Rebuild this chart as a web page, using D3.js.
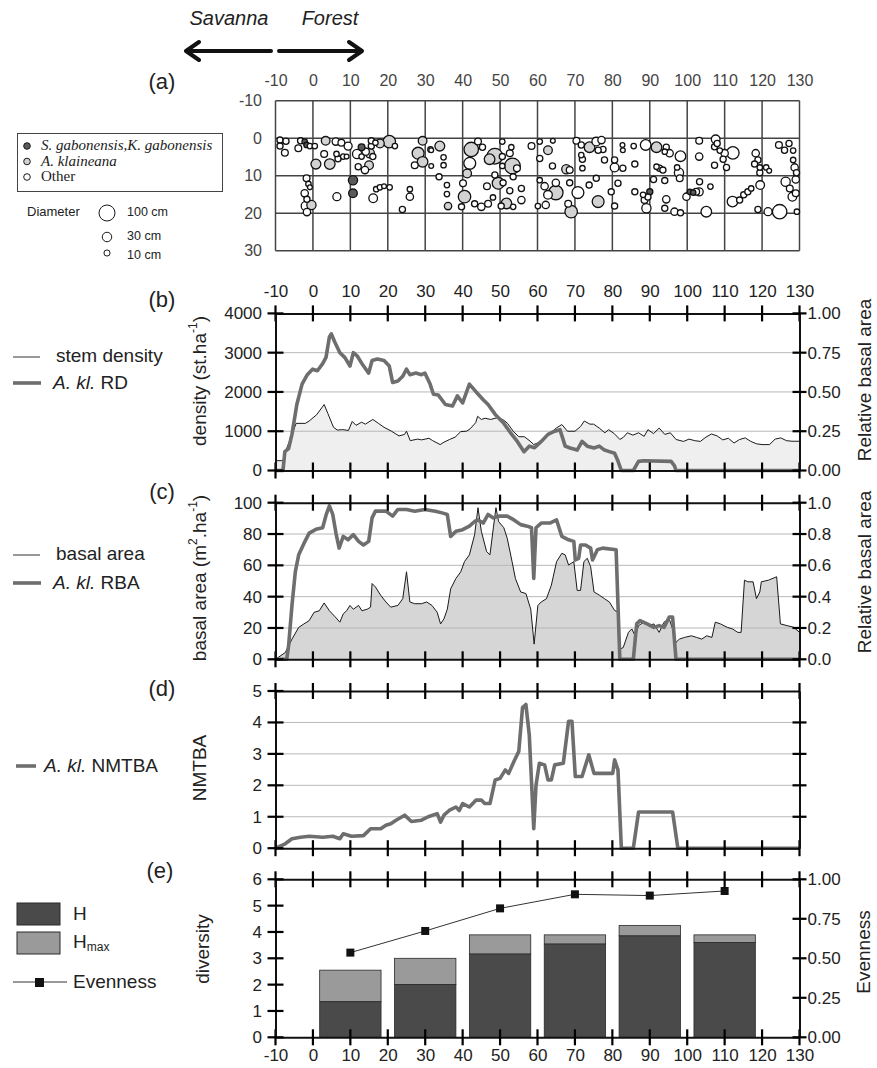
<!DOCTYPE html>
<html lang="en">
<head>
<meta charset="UTF-8">
<title>Savanna-forest transect</title>
<script src="https://cdn.jsdelivr.net/npm/d3@7"></script>
<style>
body { margin: 0; background: #fff; }
svg { display: block; font-family: "Liberation Sans", Arial, sans-serif; }
</style>
</head>
<body>
<svg id="chart" width="877" height="1068"></svg>
<script>

// ---------------- data ----------------
const xTicks = d3.range(-10, 131, 10);
const mapYTicks = [-10, 0, 10, 20, 30];

// trees: [x, y, diameter (cm), group]  group 0 = other, 1 = A. klaineana, 2 = S./K. gabonensis
const trees = [
  [-8.8,0.5,10,0],[-7.2,0.8,10,0],[-8.8,2.1,10,0],[-7.5,3.9,13,0],[-3.3,0.7,10,0],[-3.9,2.7,13,0],
  [-2.2,0.9,7,2],[-1.7,1.8,7,2],[-0.8,2.1,7,0],[0.5,2.1,7,0],[3.4,0.7,24,1],[6.1,0.9,16,0],
  [7.6,1.2,13,0],[9.4,2.1,20,0],[0.8,6.9,33,1],[4.5,6.9,39,1],[3,4.2,13,0],[6.3,4.2,7,0],
  [6.7,5.5,10,0],[8.1,4.9,7,0],[9,4.9,5,0],[11.8,4.2,28,0],[13,2.4,13,2],[13,4.9,7,0],
  [14.1,3.6,16,0],[15.2,4,28,1],[15.6,2.1,10,0],[16,4.9,10,0],[15,7.2,24,1],[13.9,8.5,16,0],
  [12.1,7.6,10,0],[15.6,0.7,10,0],[17.9,1.4,24,1],[20.4,0.9,57,1],[21.9,2.1,7,0],[16.7,1.2,7,0],
  [-1.7,10.7,13,0],[-1.2,12.2,7,0],[-0.8,13.1,5,0],[-2.2,14.7,16,0],[-1.6,16.3,10,0],[-1.9,18.1,28,0],
  [-0.4,17.8,28,1],[-1.6,19.7,16,0],[6.4,15.6,20,0],[10.7,11.2,28,2],[10.7,14.7,24,2],[16.1,16,24,0],
  [16.9,13.6,7,0],[17.9,13.1,7,0],[19,12.8,5,0],[20.5,13.1,7,0],[23.9,19,10,0],[25.9,13.6,7,0],
  [25.9,15.6,16,0],[29.3,0.7,24,1],[28.1,4,51,1],[29.3,6.3,39,1],[27.2,7.2,13,0],[31.4,3,7,0],
  [33.9,2.1,33,1],[31.6,3.2,5,0],[34.9,5.1,7,0],[34.9,7.2,7,0],[31.6,7.4,5,0],[33.7,10.3,10,0],
  [35.8,12.5,7,0],[35.8,14.9,7,0],[36.1,18.1,16,1],
  [42.3,3,79,1],[44.1,0.9,13,0],[45.3,2.4,10,0],[48.6,4.8,96,1],[47.2,5.6,39,1],[41.9,6.7,51,0],
  [41.2,9.4,24,1],[40.1,12,13,0],[40.5,15.6,57,1],[39.7,18.3,10,0],[43.2,17.5,10,0],[45,18.3,16,0],
  [46.8,17.5,13,0],[48.1,15.8,7,0],[46.5,12.8,13,0],[48.6,9.8,10,0],[49.5,12,51,1],[50.8,11.9,10,0],
  [50.6,4.9,10,0],[50.6,7.4,7,0],[52.6,4,13,0],[53,2.4,7,0],[53.3,7.4,96,1],[54.5,8,13,0],
  [53.5,10.3,10,0],[52.6,14,10,0],[55.7,13.4,10,0],[55.7,16.5,16,0],[51.7,17.4,39,1],[50.3,18.1,10,0],
  [53.5,18.3,7,0],[50.6,0.9,7,0],[58.4,2.1,13,0],[60.6,0.9,7,0],[62.8,3.2,24,1],[64.1,0.7,5,0],
  [60.6,5.4,10,0],[64,7.4,10,0],[67.7,8.3,28,1],[68.6,8.5,13,0],[60.6,11.2,7,0],[61.9,12.8,16,0],
  [64.9,11.9,16,0],[64.9,14.5,79,1],[62.8,15.1,24,0],[62.2,17.8,16,0],[60.1,18.1,7,0],[68.6,11.9,10,0],
  [70.8,14.5,51,0],[68.2,17.5,13,0],[69,19.6,57,1],[70.4,0.7,13,0],[71.7,1.8,10,0],[71.7,4.5,7,0],
  [72,5.6,10,0],[72,8,7,0],[73.9,2.4,39,1],[75.7,0.9,24,0],[77.1,0.5,16,0],[77.5,3,10,0],
  [76.2,3.2,10,0],[77.9,5.8,10,0],[80.6,5.8,10,0],[80.6,7.8,24,0],[82.8,8,10,0],[73.8,12.5,10,0],
  [75.7,10.7,10,0],[76.2,16.9,51,1],[79.7,14.3,10,0],[81.5,12,10,0],[80.6,18.1,10,0],[82.7,1.8,5,0],
  [82.8,3.2,5,0],[85.7,2.1,7,0],[86,6.9,10,0],[88.9,1.8,39,0],[91.8,2.4,39,1],[94.4,2.4,10,0],
  [94,3.6,7,0],[95.3,4,16,0],[98.2,4.8,39,0],[92.6,8,10,0],[93.5,8.5,10,0],[91.8,7.6,7,0],
  [97.3,7.8,7,0],[97.8,9.2,28,0],[98,10.7,13,0],[91,11,10,0],[94,11.3,10,0],[86,14.3,10,0],
  [88.2,15.1,7,0],[88.6,16.5,13,0],[90,14.3,10,2],[89.1,18.7,28,0],[89.5,15.7,10,0],[94.4,16.3,16,0],
  [94,18.7,10,0],[96.6,19.6,16,0],[98.2,19.9,10,0],[99.8,15.6,16,0],[100.7,14.3,7,2],[101.6,14.5,7,2],
  [102.4,14.3,13,0],[103.2,14.3,20,0],[103.3,11.6,10,0],[106.2,12.9,7,0],[103.2,0.7,13,0],[103.2,4.9,16,0],
  [105.1,19.6,39,0],[107.6,0.3,24,0],[107.3,2.3,10,0],[108,1.4,10,0],[108.7,3.3,7,0],[110,4,16,0],
  [112.2,3.9,57,0],[109.6,5.6,10,0],[110.5,7.8,10,0],[107.3,7.2,10,0],[112.1,16.9,39,0],[114,16.5,10,0],
  [115.1,15.1,10,0],[116.2,14.3,10,0],[117.1,13.4,7,0],[118.3,4,16,0],[118.9,5.8,10,0],[118,6.9,10,0],
  [119.4,7.8,7,0],[121.1,7.8,7,0],[119.4,9.2,10,0],[119.5,12.5,24,0],[118.9,19,10,0],[121.6,19.6,20,0],
  [124.7,19.6,79,0],[124.5,1.8,13,0],[127.2,1.4,10,0],[126,3.2,10,0],[128.3,3.3,7,0],[128.3,5.8,7,0],
  [128.7,7.8,16,0],[129.2,9.2,10,0],[129,11,16,0],[126.3,11.6,28,0],[127.4,13.4,13,0],[128.1,15.6,24,0],
  [129,14.7,13,0],[129.3,19.6,7,0],[121.9,8.7,5,0]
];

const treeGroups = ["Other", "A. klaineana", "S. gabonensis,K. gabonensis"];
const legendDiameters = [100, 30, 10];

// (b) stem density (st/ha) and A. klaineana relative density
const stemDensity = [
  [-10,250],[-8,250],[-7.5,450],[-6,800],[-4.5,1200],[-2,1200],[-1,1260],[1,1420],[3,1680],[4,1450],
  [5.5,1100],[6.5,1030],[8,1040],[9.5,1020],[10.5,1250],[11.5,1150],[13,1230],[14,1180],[16,1300],
  [17.5,1200],[19,1100],[21,1000],[23,880],[24.5,920],[25,1000],[26,760],[28,800],[29,780],[31,820],
  [32,760],[34,660],[35,720],[36.5,790],[38,850],[39.5,990],[41,1000],[42,1060],[43.5,1220],[44,1380],
  [45,1300],[46,1330],[47.5,1300],[49.5,1350],[51,1280],[52,1200],[53.5,1000],[55,860],[56.5,860],
  [58,750],[59,660],[60.5,720],[62,830],[63.5,950],[65,1080],[66.5,1170],[68,1000],[70,1000],
  [71.5,1120],[72.5,1260],[74,1180],[75,1180],[76.5,1080],[78,960],[79,1040],[80.5,940],[82,790],
  [83,850],[84,960],[85.5,900],[87,960],[88.5,870],[89.5,1040],[91,940],[92.5,1080],[94,920],
  [95.5,960],[97,790],[99,740],[100.5,800],[102,760],[103.5,740],[105,850],[106.5,930],[108,880],
  [109.5,780],[111,820],[112.5,700],[114,790],[115.5,830],[117,740],[118.5,680],[120,660],[122,660],
  [123.5,800],[125,830],[126.5,760],[128,745],[130,745]
];
const akRD = [
  [-10,0],[-8,0],[-7.5,0.12],[-6.5,0.14],[-5.6,0.23],[-4.3,0.42],[-2.9,0.55],[-1.5,0.61],[-0.1,0.645],
  [1.2,0.635],[2.6,0.68],[3.5,0.72],[4.4,0.85],[4.9,0.87],[5.8,0.82],[7.2,0.75],[8.5,0.72],[9.9,0.665],
  [10.8,0.75],[11.8,0.73],[13.1,0.68],[14.9,0.62],[15.8,0.70],[17.2,0.71],[19,0.70],[20.4,0.665],
  [21.3,0.56],[22.7,0.57],[24,0.60],[25,0.645],[25.9,0.61],[27.5,0.62],[29,0.61],[29.9,0.62],
  [31.3,0.55],[32.2,0.485],[33.5,0.48],[35.4,0.42],[37.3,0.41],[38.6,0.475],[40,0.43],[41.8,0.55],
  [43.6,0.50],[45.5,0.45],[46.8,0.42],[48.7,0.357],[51,0.30],[52.8,0.24],[54.6,0.185],[56.4,0.12],
  [57.8,0.155],[59.2,0.145],[61,0.185],[62.8,0.23],[64.6,0.25],[66,0.26],[67.4,0.155],[68.7,0.143],
  [70.6,0.13],[71.9,0.185],[73.3,0.155],[75.1,0.143],[76.5,0.155],[77.9,0.13],[79.2,0.12],[80.6,0.11],
  [81.5,0.06],[82.4,0],[85.6,0],[87,0.058],[88.4,0.062],[95.7,0.058],[96.6,0.03],[97,0],[130,0]
];

// (c) basal area (m2/ha) and A. klaineana relative basal area
const basalArea = [
  [-10,0],[-7.4,4.3],[-5.6,12.9],[-3.8,20.4],[-2.4,22.6],[-1,24.7],[0.3,30],[1.7,31],[3,36],[4.4,31],
  [5.8,27.5],[7.2,23.7],[8.1,29],[9,31],[9.9,34.4],[10.8,32],[12.2,34.4],[13.1,31],[14.5,32],[15.4,33.3],
  [15.8,48.4],[16.7,46.2],[18.1,40.9],[19.5,36.6],[20.8,33.3],[22.7,34.4],[24,38.7],[25,55.9],[25.9,36.6],
  [27.2,35.5],[29,35.5],[30.4,36.6],[31.8,34.4],[33.2,30],[34.1,22.6],[35,25.8],[35.9,32],[36.8,45],
  [38.2,51.6],[39.5,55.9],[40.5,62.4],[41.8,66.7],[43.2,79.6],[44.1,96.8],[45,81.7],[46.4,68.8],
  [47.3,66.7],[48.2,83.9],[48.9,96.8],[49.6,88],[51,84],[51.9,77.4],[53.2,62.4],[54.1,51.6],[55.5,43],
  [56.9,42],[58.2,32],[59.1,9.7],[60.1,34.4],[61,36.6],[62.4,38.7],[63.7,47.3],[65.1,62.4],[66.5,67.7],
  [67.4,66.7],[68.3,60.2],[69.7,62.4],[70.6,44],[71.5,44],[72.4,62.4],[73.3,64.5],[74.2,59.1],[75.1,43],
  [76.5,41],[77.9,38.7],[79.2,36.6],[80.6,31.2],[81.5,30.1],[82,6.5],[82.9,7.5],[84.3,17.2],[85.2,19.4],
  [86.1,15],[87,21.5],[88.4,23.7],[89.7,21.5],[91.1,22.6],[92.5,17.2],[93.8,23.7],[95.2,25.8],[96.1,19.4],
  [97,10.8],[97.9,12.9],[99.3,14],[101.1,15],[102.5,14],[103.9,12.9],[105.2,15],[106.6,14],[107.5,23.7],
  [108.9,22.6],[110.7,20.4],[112.1,19.4],[113.5,17.2],[114.4,17.2],[115.3,50.5],[116.2,49.5],[117.6,49.5],
  [118.5,38.7],[119.4,43],[119.8,49.5],[121.7,50.5],[123.9,52.7],[124.9,22.6],[126.7,21.5],[128.5,20.4],
  [130,17.2]
];
const akRBA = [
  [-10,0],[-7,0],[-6.5,0.086],[-5.6,0.344],[-4.7,0.56],[-3.8,0.667],[-2.4,0.74],[-1,0.806],[0.8,0.83],
  [2.6,0.84],[3.5,0.92],[4.4,0.98],[5.3,0.925],[6.2,0.8],[7,0.71],[8.1,0.785],[9.4,0.763],[10.8,0.796],
  [12.2,0.753],[13.5,0.73],[14.9,0.753],[15.8,0.903],[16.7,0.946],[19.5,0.946],[21.3,0.914],[22.7,0.957],
  [25,0.957],[27.2,0.946],[29.9,0.957],[32.7,0.946],[34.5,0.935],[35.9,0.925],[36.8,0.785],[38.2,0.817],
  [40,0.828],[41.8,0.85],[43.2,0.88],[44.1,0.89],[45.5,0.87],[46.8,0.925],[48.2,0.903],[49.6,0.914],
  [51.9,0.914],[53.7,0.89],[55.5,0.86],[57.3,0.85],[58.4,0.84],[59,0.516],[59.6,0.84],[61,0.87],
  [63.3,0.87],[65.1,0.89],[66.5,0.785],[68.3,0.763],[69.7,0.753],[70.1,0.634],[71,0.645],[71.5,0.73],
  [72.8,0.73],[74.2,0.71],[74.7,0.634],[76,0.70],[77.4,0.71],[81,0.70],[82,0],[85.6,0],[86.5,0.226],
  [87.4,0.247],[89.3,0.226],[91.1,0.204],[92.5,0.215],[93.8,0.204],[95.2,0.27],[96.1,0.27],[97,0],[130,0]
];

// (d) A. klaineana NMTBA
const akNMTBA = [
  [-10,0],[-7.4,0.14],[-5.6,0.3],[-3.3,0.35],[-1,0.38],[2.6,0.35],[5.3,0.38],[7.2,0.3],[8.1,0.46],
  [10.3,0.38],[13.5,0.4],[15.4,0.62],[18.1,0.62],[19.5,0.73],[20.8,0.78],[22.2,0.89],[24.5,1.05],
  [26.3,0.85],[29,0.89],[30.8,1.0],[33.2,1.1],[34.1,0.83],[35,1.05],[36.4,1.2],[38.2,1.31],[39.1,1.2],
  [40,1.42],[41.8,1.31],[43.6,1.53],[45,1.53],[45.9,1.42],[47.3,1.42],[48.7,2.17],[50,2.22],[51.4,2.49],
  [52.3,2.38],[53.7,2.76],[55,3.08],[56,4.47],[56.9,4.57],[57.8,3.61],[59,0.62],[59.6,2.0],[60.5,2.7],
  [61.9,2.65],[62.8,2.17],[63.7,2.17],[64.6,2.65],[66.9,2.7],[68.3,4.04],[69.2,4.04],[70.1,2.28],
  [71.9,2.28],[73.7,2.97],[75.1,2.38],[80.1,2.38],[80.6,2.81],[81.5,2.49],[82.4,0],[85.6,0],[87,1.15],
  [96.1,1.15],[97.5,0],[130,0]
];

// (e) diversity per 20 m block
const blockCenters = [10, 30, 50, 70, 90, 110];
const diversityH = [1.35, 2.0, 3.16, 3.54, 3.85, 3.6];
const diversityHmax = [2.55, 3.0, 3.89, 3.89, 4.25, 3.89];
const evenness = [0.536, 0.673, 0.816, 0.905, 0.897, 0.926];

// ---------------- layout ----------------
const svg = d3.select("#chart");
const FONT = "Liberation Sans, Arial, sans-serif";
const x = d3.scaleLinear().domain([-10, 130]).range([275.5, 799.5]);

const yMapScale = d3.scaleLinear().domain([-10, 30]).range([100.7, 250.7]);
const yB = d3.scaleLinear().domain([0, 4000]).range([470.5, 313.4]);
const yBr = d3.scaleLinear().domain([0, 1]).range([470.5, 313.4]);
const yC = d3.scaleLinear().domain([0, 100]).range([659.3, 502.7]);
const yCr = d3.scaleLinear().domain([0, 1]).range([659.3, 502.7]);
const yD = d3.scaleLinear().domain([0, 5]).range([848.2, 691]);
const yE = d3.scaleLinear().domain([0, 6]).range([1037.3, 879.3]);
const yEr = d3.scaleLinear().domain([0, 1]).range([1037.3, 879.3]);

const rScale = d3.scaleSqrt().domain([0, 100]).range([0.8, 8]);
const treeFill = ["#ffffff", "#d2d2d2", "#5a5a5a"];

const thickColor = "#6e6e6e";
const tickColor = "#000";
const tickWidth = 2.2;

function styleAxis(g) {
    g.attr("font-family", FONT).attr("font-size", 17);
    g.select(".domain").attr("stroke", "#111").attr("stroke-width", 2);
    g.selectAll(".tick text").attr("fill", "#222");
    return g;
}

// crossing tick marks drawn as thin rectangles, positions from the scales
function tickMarksX(values, yy, len) {
    svg.append("g").selectAll("rect").data(values).join("rect")
        .attr("x", d => x(d) - tickWidth / 2).attr("width", tickWidth)
        .attr("y", yy - len).attr("height", 2 * len)
        .attr("fill", tickColor);
}
function tickMarksY(scale, values, xx, len) {
    svg.append("g").selectAll("rect").data(values).join("rect")
        .attr("y", d => scale(d) - tickWidth / 2).attr("height", tickWidth)
        .attr("x", xx - len).attr("width", 2 * len)
        .attr("fill", tickColor);
}

function xAxes(yScale, topLabels, bottomLabels) {
    const [y0, y1] = yScale.range();
    svg.append("g").attr("transform", `translate(0,${y1})`)
        .call(d3.axisTop(x).tickValues(xTicks).tickSize(0).tickSizeOuter(0).tickPadding(16)
            .tickFormat(topLabels ? d => String(d) : "")).call(styleAxis);
    svg.append("g").attr("transform", `translate(0,${y0})`)
        .call(d3.axisBottom(x).tickValues(xTicks).tickSize(0).tickSizeOuter(0).tickPadding(12)
            .tickFormat(bottomLabels ? d => String(d) : "")).call(styleAxis);
    tickMarksX(xTicks, y0, 8);
    tickMarksX(xTicks, y1, 8);
}

function yAxes(yL, leftTicks, leftFmt, yR, rightTicks, rightFmt) {
    svg.append("g").attr("transform", `translate(${x(-10)},0)`)
        .call(d3.axisLeft(yL).tickValues(leftTicks).tickSize(0).tickSizeOuter(0).tickPadding(13.5)
            .tickFormat(leftFmt)).call(styleAxis);
    svg.append("g").attr("transform", `translate(${x(130)},0)`)
        .call(d3.axisRight(yR).tickValues(rightTicks).tickSize(0).tickSizeOuter(0).tickPadding(8)
            .tickFormat(rightFmt)).call(styleAxis);
    tickMarksY(yL, leftTicks, x(-10), 8);
    tickMarksY(yR, rightTicks, x(130), 7);
}

function grid(yScale, values) {
    svg.append("g").selectAll("line").data(values).join("line")
        .attr("x1", x(-10)).attr("x2", x(130))
        .attr("y1", d => yScale(d)).attr("y2", d => yScale(d))
        .attr("stroke", "#b8b8b8").attr("stroke-width", 1);
}

function area(data, yScale, fill) {
    svg.append("path").datum(data)
        .attr("d", d3.area().x(d => x(d[0])).y0(yScale(0)).y1(d => yScale(d[1])))
        .attr("fill", fill).attr("stroke", "none");
}

function line(data, yScale, color, width) {
    svg.append("path").datum(data)
        .attr("d", d3.line().x(d => x(d[0])).y(d => yScale(d[1])))
        .attr("fill", "none").attr("stroke", color).attr("stroke-width", width)
        .attr("stroke-linejoin", "round");
}

function label(txt, px, py, size, opts = {}) {
    const t = svg.append("text").attr("x", px).attr("y", py)
        .attr("font-size", size).attr("font-family", opts.family || FONT)
        .attr("fill", opts.fill || "#111")
        .attr("text-anchor", opts.anchor || "start")
        .attr("dominant-baseline", "middle");
    if (opts.italic) t.attr("font-style", "italic");
    t.text(txt);
    return t;
}

function vLabel(px, py, parts) {
    const t = svg.append("text")
        .attr("transform", `translate(${px},${py}) rotate(-90)`)
        .attr("text-anchor", "middle").attr("dominant-baseline", "middle")
        .attr("font-size", 19).attr("font-family", FONT).attr("fill", "#222");
    parts.forEach(p => {
        const s = t.append("tspan").text(p.t);
        if (p.sup) s.attr("font-size", 12).attr("dy", -7);
        if (p.back) s.attr("dy", 7);
    });
}

// ---------------- Savanna / Forest header ----------------
label("Savanna", 229, 20, 20, { italic: true, anchor: "middle", fill: "#222" });
label("Forest", 330, 20, 20, { italic: true, anchor: "middle", fill: "#222" });
const arrowG = svg.append("g").attr("stroke", "#111").attr("stroke-width", 4)
    .attr("fill", "none").attr("stroke-linecap", "round").attr("stroke-linejoin", "round");
arrowG.append("path").attr("d", "M271,51 L186,51 M199,42 L186,51 L199,60");
arrowG.append("path").attr("d", "M279,51 L362,51 M349,42 L362,51 L349,60");

// ---------------- (a) tree map ----------------
label("(a)", 162, 83, 22, { anchor: "middle", fill: "#222" });

const mapG = svg.append("g");
mapG.selectAll(".vgrid").data(xTicks).join("line").attr("class", "vgrid")
    .attr("x1", d => x(d)).attr("x2", d => x(d))
    .attr("y1", yMapScale(-10)).attr("y2", yMapScale(30));
mapG.selectAll(".hgrid").data(mapYTicks).join("line").attr("class", "hgrid")
    .attr("x1", x(-10)).attr("x2", x(130))
    .attr("y1", d => yMapScale(d)).attr("y2", d => yMapScale(d));
mapG.selectAll("line").attr("stroke", "#444").attr("stroke-width", 1.5);

mapG.selectAll("circle")
    .data(trees.slice().sort((a, b) => b[2] - a[2]))
    .join("circle")
    .attr("cx", d => x(d[0])).attr("cy", d => yMapScale(d[1]))
    .attr("r", d => rScale(d[2]))
    .attr("fill", d => treeFill[d[3]])
    .attr("stroke", "#111").attr("stroke-width", 1.3);

const mapTop = svg.append("g").attr("transform", `translate(0,${yMapScale(-10)})`)
    .call(d3.axisTop(x).tickValues(xTicks).tickSize(0).tickPadding(15).tickFormat(d => String(d)));
mapTop.select(".domain").remove();
mapTop.attr("font-family", FONT).attr("font-size", 16).selectAll("text").attr("fill", "#444");
const mapLeft = svg.append("g").attr("transform", `translate(${x(-10)},0)`)
    .call(d3.axisLeft(yMapScale).tickValues(mapYTicks).tickSize(0).tickPadding(13.5).tickFormat(d => String(d)));
mapLeft.select(".domain").remove();
mapLeft.attr("font-family", FONT).attr("font-size", 16).selectAll("text").attr("fill", "#444");

// tree legend
svg.append("rect").attr("x", 17.5).attr("y", 133.5).attr("width", 205).attr("height", 58)
    .attr("fill", "#fff").attr("stroke", "#444").attr("stroke-width", 1);
[2, 1, 0].forEach((grp, i) => {
    const cy = 146 + i * 15.5;
    svg.append("circle").attr("cx", 27).attr("cy", cy).attr("r", 3.3)
        .attr("fill", treeFill[grp]).attr("stroke", "#1a1a1a").attr("stroke-width", 1);
    label(treeGroups[grp], 41, cy + 1, 15,
        { family: "Liberation Serif, Times New Roman, serif", italic: grp !== 0, fill: "#222" });
});
label("Diameter", 27, 213, 13, { fill: "#222" });
const legY = [213, 237, 253];
legendDiameters.forEach((dcm, i) => {
    svg.append("circle").attr("cx", 107).attr("cy", legY[i]).attr("r", rScale(dcm))
        .attr("fill", "#fff").attr("stroke", "#1a1a1a").attr("stroke-width", 1);
    label(dcm + " cm", 127, legY[i] + (i === 2 ? 3 : 0), 12.5, { fill: "#222" });
});

// ---------------- (b) stem density ----------------
label("(b)", 162, 301, 22, { anchor: "middle", fill: "#222" });
area(stemDensity, yB, "#efefef");
grid(yB, [1000, 2000, 3000]);
line(stemDensity, yB, "#1a1a1a", 1);
line(akRD, yBr, thickColor, 3.6);
xAxes(yB, true, false);
yAxes(yB, [0, 1000, 2000, 3000, 4000], d => String(d), yBr, [0, 0.25, 0.5, 0.75, 1], d3.format(".2f"));
vLabel(201, 381, [{ t: "density (st.ha" }, { t: "-1", sup: true }, { t: ")", back: true }]);
vLabel(866, 380, [{ t: "Relative basal area" }]);

svg.append("line").attr("x1", 13).attr("x2", 40).attr("y1", 357).attr("y2", 357)
    .attr("stroke", "#333").attr("stroke-width", 1);
label("stem density", 56, 357, 19, { fill: "#222" });
svg.append("line").attr("x1", 13).attr("x2", 41).attr("y1", 383).attr("y2", 383)
    .attr("stroke", thickColor).attr("stroke-width", 3.6);
const rdT = label("", 53, 384, 19, { fill: "#222" });
rdT.append("tspan").attr("font-style", "italic").text("A. kl.");
rdT.append("tspan").text(" RD");

// ---------------- (c) basal area ----------------
label("(c)", 162, 493, 22, { anchor: "middle", fill: "#222" });
area(basalArea, yC, "#d6d6d6");
grid(yC, [20, 40, 60, 80]);
line(basalArea, yC, "#1a1a1a", 1);
line(akRBA, yCr, thickColor, 3.6);
xAxes(yC, false, false);
yAxes(yC, [0, 20, 40, 60, 80, 100], d => String(d), yCr, [0, 0.2, 0.4, 0.6, 0.8, 1], d3.format(".1f"));
vLabel(201, 578, [{ t: "basal area (m" }, { t: "2", sup: true }, { t: ".ha", back: true },
    { t: "-1", sup: true }, { t: ")", back: true }]);
vLabel(866, 572, [{ t: "Relative basal area" }]);

svg.append("line").attr("x1", 13).attr("x2", 40).attr("y1", 555).attr("y2", 555)
    .attr("stroke", "#333").attr("stroke-width", 1);
label("basal area", 56, 555, 19, { fill: "#222" });
svg.append("line").attr("x1", 13).attr("x2", 41).attr("y1", 583).attr("y2", 583)
    .attr("stroke", thickColor).attr("stroke-width", 3.6);
const rbaT = label("", 53, 584, 19, { fill: "#222" });
rbaT.append("tspan").attr("font-style", "italic").text("A. kl.");
rbaT.append("tspan").text(" RBA");

// ---------------- (d) NMTBA ----------------
label("(d)", 162, 690, 22, { anchor: "middle", fill: "#222" });
grid(yD, [1, 2, 3, 4]);
line(akNMTBA, yD, thickColor, 3.6);
xAxes(yD, false, false);
yAxes(yD, [0, 1, 2, 3, 4, 5], d => String(d), yD, [1, 2, 3, 4], "");
vLabel(201, 768, [{ t: "NMTBA" }]);

svg.append("line").attr("x1", 16).attr("x2", 36).attr("y1", 766).attr("y2", 766)
    .attr("stroke", thickColor).attr("stroke-width", 3.6);
const nmT = label("", 44, 767, 19, { fill: "#222" });
nmT.append("tspan").attr("font-style", "italic").text("A. kl.");
nmT.append("tspan").text(" NMTBA");

// ---------------- (e) diversity ----------------
label("(e)", 160, 872, 22, { anchor: "middle", fill: "#222" });
const blocks = blockCenters.map((c, i) => ({ c, h: diversityH[i], hmax: diversityHmax[i], e: evenness[i] }));
const barG = svg.append("g").attr("stroke", "#2a2a2a").attr("stroke-width", 0.8);
barG.selectAll(".hmax").data(blocks).join("rect").attr("class", "hmax")
    .attr("x", d => x(d.c - 8.2)).attr("width", d => x(d.c + 8.2) - x(d.c - 8.2))
    .attr("y", d => yE(d.hmax)).attr("height", d => yE(d.h) - yE(d.hmax))
    .attr("fill", "#9a9a9a");
barG.selectAll(".h").data(blocks).join("rect").attr("class", "h")
    .attr("x", d => x(d.c - 8.2)).attr("width", d => x(d.c + 8.2) - x(d.c - 8.2))
    .attr("y", d => yE(d.h)).attr("height", d => yE(0) - yE(d.h))
    .attr("fill", "#4a4a4a");

svg.append("path").datum(blocks)
    .attr("d", d3.line().x(d => x(d.c)).y(d => yEr(d.e)))
    .attr("fill", "none").attr("stroke", "#333").attr("stroke-width", 1);
svg.selectAll(".even").data(blocks).join("rect").attr("class", "even")
    .attr("x", d => x(d.c) - 4).attr("y", d => yEr(d.e) - 4)
    .attr("width", 8).attr("height", 8).attr("fill", "#111");

xAxes(yE, false, true);
yAxes(yE, [0, 1, 2, 3, 4, 5, 6], d => String(d), yEr, [0, 0.25, 0.5, 0.75, 1], d3.format(".2f"));
vLabel(204, 949, [{ t: "diversity" }]);
vLabel(865, 952, [{ t: "Evenness" }]);

svg.append("rect").attr("x", 17).attr("y", 903).attr("width", 43).attr("height", 22)
    .attr("fill", "#4a4a4a").attr("stroke", "#2a2a2a");
label("H", 73, 915, 19, { fill: "#222" });
svg.append("rect").attr("x", 17).attr("y", 932).attr("width", 43).attr("height", 22)
    .attr("fill", "#9a9a9a").attr("stroke", "#2a2a2a");
const hmT = label("H", 73, 943, 19, { fill: "#222" });
hmT.append("tspan").attr("font-size", 12).attr("dy", 5).text("max");
svg.append("line").attr("x1", 13).attr("x2", 67).attr("y1", 982).attr("y2", 982)
    .attr("stroke", "#333").attr("stroke-width", 1);
svg.append("rect").attr("x", 35).attr("y", 978).attr("width", 9).attr("height", 9).attr("fill", "#111");
label("Evenness", 73, 983, 19, { fill: "#222" });

</script>
</body>
</html>
